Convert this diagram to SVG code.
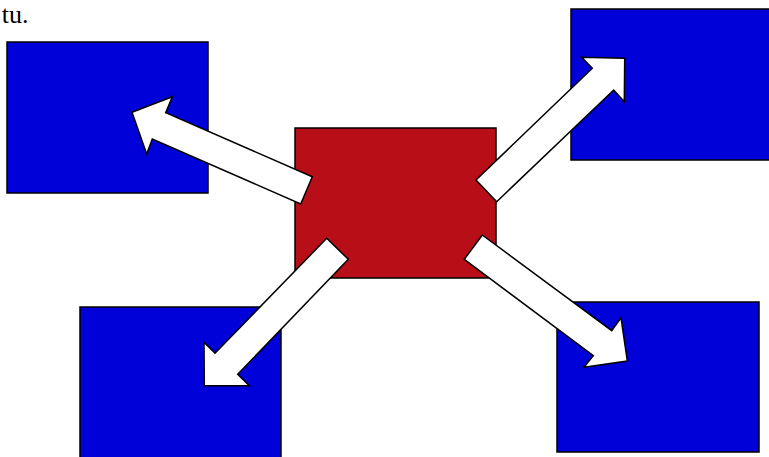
<svg xmlns="http://www.w3.org/2000/svg" width="769" height="457" viewBox="0 0 769 457">
<style>
.blue{fill:#0000d8;stroke:#000;stroke-width:1.5}
.red{fill:#b80e18;stroke:#000;stroke-width:1.5}
.arr{fill:#fff;stroke:#000;stroke-width:1.5;stroke-linejoin:miter}
.t{font-family:"Liberation Serif",serif;font-size:26px;fill:#000}
</style>
<rect width="769" height="457" fill="#fff"/>
<text class="t" x="28.5" y="22.5" text-anchor="end">tu.</text>
<g id="box-top-left"><rect class="blue" x="7" y="42" width="201" height="151"/></g>
<g id="box-top-right"><rect class="blue" x="571" y="9" width="202" height="151"/></g>
<g id="box-bottom-left"><rect class="blue" x="80" y="307" width="201" height="155"/></g>
<g id="box-bottom-right"><rect class="blue" x="557" y="302" width="202" height="150"/></g>
<g id="center"><rect class="red" x="295" y="128" width="201" height="150"/></g>
<g id="connectors">
<polygon class="arr" points="312.3,176.7 165.7,112.7 172.3,96.7 132,112.3 146.7,154 152.3,139 300.7,204"/>
<polygon class="arr" points="476,180 592.3,68.3 581.7,57.3 624.7,58.3 624.3,101.7 613.7,90 496.7,201.7"/>
<polygon class="arr" points="326.7,238.3 215,353.3 204,342.3 204.3,385.7 249.3,385.7 237.7,374.3 348.3,259.3"/>
<polygon class="arr" points="482.3,235 611.7,330.7 621,317.7 627.3,361 584,367.3 593.3,355.7 464.3,259.3"/>
</g>
</svg>
